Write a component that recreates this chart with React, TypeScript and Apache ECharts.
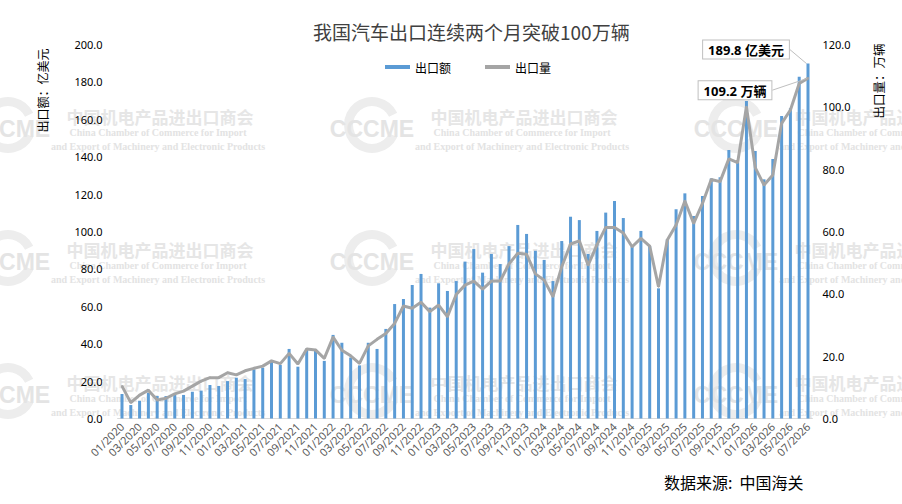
import React, { useEffect, useRef } from 'react';
import * as echarts from 'echarts';

// ---- categories (months 01/2020 .. 07/2026) ----
const startYear = 2020;
const monthCount = 79;
const categories: string[] = [];
for (let i = 0; i < monthCount; i++) {
  const y = startYear + Math.floor(i / 12);
  const m = (i % 12) + 1;
  categories.push(`${String(m).padStart(2, '0')}/${y}`);
}

// ---- 出口额 (亿美元) ----
const exportValue: number[] = [
  13.1, 7.2, 9.5, 13.8, 12.0, 12.0, 12.9, 12.6, 14.3, 14.9, 17.9, 17.4,
  20.0, 21.8, 21.1, 26.3, 27.2, 30.7, 28.6, 37.2, 27.7, 37.3, 36.6, 30.8,
  44.7, 40.5, 32.6, 28.4, 40.5, 37.2, 47.9, 61.2, 63.9, 71.4, 77.3, 59.3,
  72.3, 68.2, 73.5, 83.9, 90.6, 78.0, 88.0, 82.6, 92.2, 103.5, 98.7, 89.7,
  84.8, 73.5, 94.9, 107.9, 106.1, 88.0, 100.3, 110.1, 116.3, 107.2, 91.9, 100.3,
  92.2, 69.6, 95.8, 111.9, 120.4, 108.3, 119.0, 128.4, 129.0, 143.6, 136.8, 169.8,
  143.0, 127.9, 138.8, 161.8, 165.9, 182.8, 189.8,
];

// ---- 出口量 (万辆) ----
const exportVolume: number[] = [
  10.4, 5.1, 7.5, 9.1, 5.9, 6.5, 7.9, 8.8, 10.4, 12.0, 13.1, 13.1,
  14.7, 14.0, 15.3, 16.1, 16.8, 18.5, 17.6, 20.9, 17.5, 22.3, 22.0, 19.3,
  26.1, 21.9, 20.1, 17.7, 23.3, 25.4, 27.3, 30.5, 36.1, 35.4, 37.3, 34.3,
  36.4, 32.7, 39.8, 42.8, 44.1, 41.5, 44.1, 44.1, 49.6, 53.0, 52.7, 46.4,
  44.4, 39.1, 48.7, 56.0, 57.0, 49.2, 55.7, 61.3, 61.3, 59.5, 55.1, 57.8,
  55.3, 42.3, 57.3, 62.1, 69.8, 62.6, 69.0, 76.7, 76.0, 83.3, 82.1, 100.0,
  80.5, 74.9, 78.1, 94.7, 99.0, 107.5, 109.2,
];

const SANS = "'Noto Sans', 'Noto Sans CJK SC', sans-serif";
const CJK = "'Noto Sans CJK SC', 'Noto Sans', sans-serif";

const calloutStyle = {
  show: true,
  fontSize: 13,
  fontWeight: 'bold' as const,
  color: '#000',
  fontFamily: SANS,
  backgroundColor: '#fff',
  borderColor: '#bfbfbf',
  borderWidth: 1,
  padding: [3, 5, 2, 5],
};
const calloutLine = { show: true, lineStyle: { color: '#bfbfbf', width: 1 } };

function watermarkTile(cx: number, cy: number): any[] {
  // cx, cy: centre of the Chinese text line of one tile
  const lx = cx - 152;
  const ly = cy + 9;
  return [
    {
      type: 'sector',
      z: 0,
      silent: true,
      shape: { cx: lx, cy: ly, r: 28, r0: 19, startAngle: Math.PI / 7, endAngle: Math.PI * 2 - Math.PI / 7 },
      style: { fill: '#ededed' },
    },
    {
      type: 'text',
      z: 0,
      silent: true,
      x: lx,
      y: ly + 4,
      style: {
        text: 'CCCME',
        fontSize: 23,
        fontWeight: 'bold',
        fontFamily: "'Liberation Sans', sans-serif",
        fill: '#e4e4e4',
        align: 'center',
        verticalAlign: 'middle',
      },
    },
    {
      type: 'text',
      z: 0,
      silent: true,
      x: cx,
      y: cy,
      style: {
        text: '中国机电产品进出口商会',
        fontSize: 17,
        fontWeight: 'bold',
        fontFamily: CJK,
        fill: '#e6e6e6',
        align: 'center',
        verticalAlign: 'middle',
      },
    },
    {
      type: 'text',
      z: 0,
      silent: true,
      x: cx - 2,
      y: cy + 16,
      style: {
        text: 'China Chamber of Commerce for Import',
        fontSize: 10,
        fontWeight: 'bold',
        fontFamily: "'Liberation Serif', serif",
        fill: '#e3e3e3',
        align: 'center',
        verticalAlign: 'middle',
      },
    },
    {
      type: 'text',
      z: 0,
      silent: true,
      x: cx - 2,
      y: cy + 30,
      style: {
        text: 'and Export of Machinery and Electronic Products',
        fontSize: 10,
        fontWeight: 'bold',
        fontFamily: "'Liberation Serif', serif",
        fill: '#e3e3e3',
        align: 'center',
        verticalAlign: 'middle',
      },
    },
  ];
}

export default function App() {
  const ref = useRef<HTMLDivElement>(null);

  useEffect(() => {
    if (!ref.current) return;
    const chart = echarts.init(ref.current, null, { renderer: 'svg' });
    const last = exportValue.length - 1;

    const watermark: any[] = [];
    const colsX = [160, 524, 888];
    const rowsY = [116, 249, 382];
    rowsY.forEach((y) => colsX.forEach((x) => watermark.push(...watermarkTile(x, y))));

    const option: any = {
      animation: false,
      backgroundColor: '#ffffff',
      textStyle: { fontFamily: SANS },
      title: {
        text: '我国汽车出口连续两个月突破100万辆',
        left: 308,
        top: 17,
        textStyle: { fontSize: 19, fontWeight: 'normal', color: '#404040', fontFamily: CJK },
      },
      legend: {
        left: 380,
        top: 56,
        itemWidth: 25,
        itemHeight: 4,
        itemGap: 34,
        textStyle: { fontSize: 12, color: '#000', fontFamily: CJK },
        data: [
          { name: '出口额', icon: 'rect' },
          { name: '出口量', icon: 'rect' },
        ],
      },
      grid: { left: 117.6, right: 89.6, top: 44.5, bottom: 85.5, containLabel: false },
      xAxis: {
        type: 'category',
        data: categories,
        boundaryGap: true,
        axisLine: { show: true, lineStyle: { color: '#d9d9d9', width: 1 } },
        axisTick: { show: false },
        axisLabel: { interval: 1, rotate: 45, fontSize: 11, color: '#595959', margin: 6, fontFamily: SANS },
        splitLine: { show: false },
      },
      yAxis: [
        {
          type: 'value',
          min: 0,
          max: 200,
          interval: 20,
          axisLine: { show: false },
          axisTick: { show: false },
          splitLine: { show: false },
          axisLabel: { formatter: (v: number) => v.toFixed(1), fontSize: 11, color: '#000', margin: 15, fontFamily: SANS },
        },
        {
          type: 'value',
          position: 'right',
          min: 0,
          max: 120,
          interval: 20,
          axisLine: { show: false },
          axisTick: { show: false },
          splitLine: { show: false },
          axisLabel: { formatter: (v: number) => v.toFixed(1), fontSize: 11, color: '#000', margin: 10, fontFamily: SANS },
        },
      ],
      series: [
        {
          name: '出口额',
          type: 'bar',
          barWidth: 3,
          itemStyle: { color: '#5b9bd5' },
          data: exportValue.map((v, i) =>
            i === last
              ? { value: v, label: { ...calloutStyle, position: 'top', formatter: '{c} 亿美元' }, labelLine: calloutLine }
              : v,
          ),
          labelLayout: (p: any) => (p.dataIndex === last ? { dx: -62, dy: 0 } : {}),
          z: 2,
        },
        {
          name: '出口量',
          type: 'line',
          yAxisIndex: 1,
          symbol: 'circle',
          symbolSize: 2,
          showAllSymbol: true,
          itemStyle: { color: '#a5a5a5' },
          lineStyle: { color: '#a5a5a5', width: 3 },
          data: exportVolume.map((v, i) =>
            i === last
              ? { value: v, label: { ...calloutStyle, position: 'top', formatter: '{c} 万辆' }, labelLine: calloutLine }
              : v,
          ),
          labelLayout: (p: any) => (p.dataIndex === last ? { dx: -73, dy: 27 } : {}),
          z: 3,
        },
      ],
      graphic: [
        ...watermark,
        {
          type: 'text',
          x: 42.5,
          y: 90.5,
          rotation: Math.PI / 2,
          z: 5,
          style: {
            text: '出口额：亿美元',
            fontSize: 12,
            fill: '#000',
            fontFamily: CJK,
            align: 'center',
            verticalAlign: 'middle',
          },
        },
        {
          type: 'text',
          x: 878,
          y: 81,
          rotation: Math.PI / 2,
          z: 5,
          style: {
            text: '出口量：万辆',
            fontSize: 12.5,
            fill: '#000',
            fontFamily: CJK,
            align: 'center',
            verticalAlign: 'middle',
          },
        },
        {
          type: 'text',
          x: 664,
          y: 482,
          z: 5,
          style: {
            text: '数据来源:  中国海关',
            fontSize: 16,
            fill: '#000',
            fontFamily: CJK,
            align: 'left',
            verticalAlign: 'middle',
          },
        },
      ],
    };

    chart.setOption(option);
    return () => chart.dispose();
  }, []);

  return (
    <div
      ref={ref}
      style={{ position: 'fixed', left: 0, top: 0, width: 902, height: 504, background: '#fff' }}
    />
  );
}
